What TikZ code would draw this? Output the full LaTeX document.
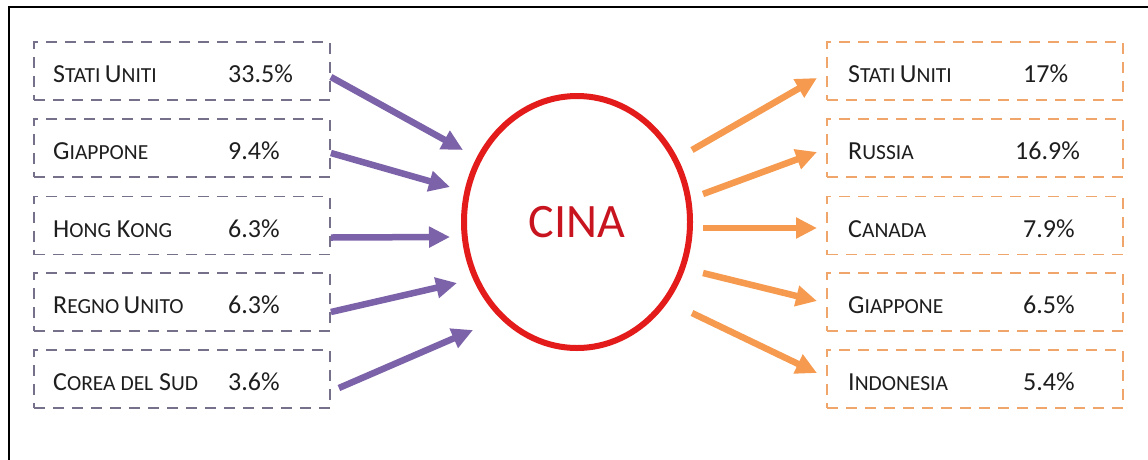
\documentclass[tikz,border=0pt]{standalone}
\usepackage{fontspec}
\setmainfont{Carlito}
\usetikzlibrary{arrows.meta,shapes.geometric}
\definecolor{purarr}{HTML}{7C62A8}
\definecolor{orarr}{HTML}{F59A4E}
\definecolor{lbord}{HTML}{77708A}
\definecolor{rbord}{HTML}{F0A66A}
\definecolor{cred}{HTML}{E31B1B}
\definecolor{ctext}{HTML}{C8141E}
\definecolor{txt}{HTML}{1E1E1E}
\newcommand\SCw[2]{#1{\fontsize{21.5}{22}\selectfont #2}}
\tikzset{
  box/.style={draw, line width=1.8pt, dash pattern=on 11pt off 8pt, minimum width=296pt, minimum height=58pt, inner sep=0pt},
  lbox/.style={box, draw=lbord},
  rbox/.style={box, draw=rbord},
  lab/.style={anchor=base west, inner sep=0pt, text=txt, font=\fontsize{26}{30}\selectfont},
  parr/.style={draw=purarr, line width=6.5pt, -{Triangle[length=21pt,width=20pt]}},
  oarr/.style={draw=orarr, line width=6.5pt, -{Triangle[length=21pt,width=20pt]}},
}
\begin{document}
\begin{tikzpicture}[x=1pt,y=-1pt]
\useasboundingbox (0,0) rectangle (1148,459);
\draw[line width=2pt] (9,470) -- (9,7) -- (1160,7);

% left boxes
\node[lbox] (l1) at (182,71) {};
\node[lbox] (l2) at (182,148) {};
\node[lbox] (l3) at (182,225.5) {};
\node[lbox] (l4) at (182,302) {};
\node[lbox] (l5) at (182,379) {};
% right boxes
\node[rbox] (r1) at (975,71) {};
\node[rbox] (r2) at (975,148) {};
\node[rbox] (r3) at (975,225.5) {};
\node[rbox] (r4) at (975,302) {};
\node[rbox] (r5) at (975,379) {};

% left labels
\node[lab] (ln1) at (53,82) {\SCw{S}{TATI}\,\SCw{U}{NITI}};
\node[lab] (lp1) at (228,82) {33.5\%};
\node[lab] (ln2) at (53,159) {\SCw{G}{IAPPONE}};
\node[lab] (lp2) at (228,159) {9.4\%};
\node[lab] (ln3) at (53,237) {\SCw{H}{ONG} \SCw{K}{ONG}};
\node[lab] (lp3) at (228,237) {6.3\%};
\node[lab] (ln4) at (53,313) {\SCw{R}{EGNO}\,\SCw{U}{NITO}};
\node[lab] (lp4) at (228,313) {6.3\%};
\node[lab] (ln5) at (53,390) {\SCw{C}{OREA DEL} \SCw{S}{UD}};
\node[lab] (lp5) at (228,390) {3.6\%};

% right labels
\node[lab] (rn1) at (848,82) {\SCw{S}{TATI}\,\SCw{U}{NITI}};
\node[lab] (rp1) at (1023,82) {17\%};
\node[lab] (rn2) at (848,159) {\SCw{R}{USSIA}};
\node[lab] (rp2) at (1015,159) {16.9\%};
\node[lab] (rn3) at (848,237) {\SCw{C}{ANADA}};
\node[lab] (rp3) at (1023,237) {7.9\%};
\node[lab] (rn4) at (848,313) {\SCw{G}{IAPPONE}};
\node[lab] (rp4) at (1023,313) {6.5\%};
\node[lab] (rn5) at (848,390) {\SCw{I}{NDONESIA}};
\node[lab] (rp5) at (1023,390) {5.4\%};

% centre
\node[ellipse, draw=cred, line width=6pt, minimum width=226pt, minimum height=252pt, inner sep=0pt,
      text=ctext, font=\fontsize{48}{50}\selectfont] (c) at (577,222) {CINA};

% arrow ends
\coordinate (a1) at (463,150);
\coordinate (a2) at (450,187);
\coordinate (a3) at (450,237);
\coordinate (a4) at (457,283);
\coordinate (a5) at (473,330);
\coordinate (b1) at (692,150);
\coordinate (b2) at (703,194);
\coordinate (b3) at (703,228);
\coordinate (b4) at (703,273);
\coordinate (b5) at (692,313);
\coordinate (e1) at (817,78);
\coordinate (e2) at (817,152);
\coordinate (e3) at (817,228);
\coordinate (e4) at (817,301);
\coordinate (e5) at (817,373);

\draw[parr] ([yshift=-6pt]l1.east) -- (a1);
\draw[parr] ([yshift=-5pt]l2.east) -- (a2);
\draw[parr] ([yshift=-12pt]l3.east) -- (a3);
\draw[parr] ([yshift=-10pt]l4.east) -- (a4);
\draw[parr] ([xshift=8pt,yshift=-9pt]l5.east) -- (a5);

\draw[oarr] (b1) -- (e1);
\draw[oarr] (b2) -- (e2);
\draw[oarr] (b3) -- (e3);
\draw[oarr] (b4) -- (e4);
\draw[oarr] (b5) -- (e5);
\end{tikzpicture}
\end{document}
